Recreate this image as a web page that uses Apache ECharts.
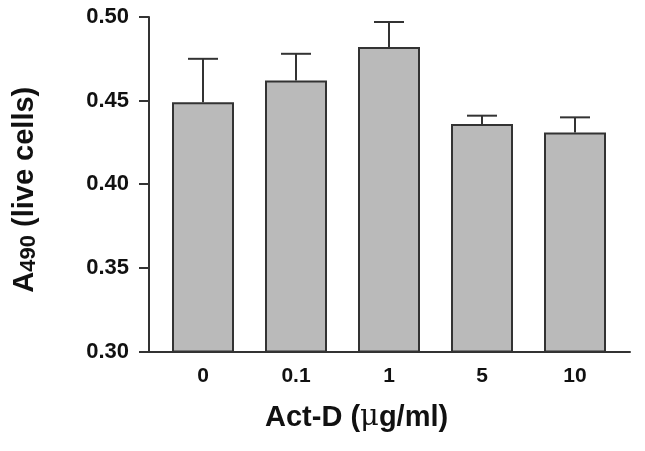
<!DOCTYPE html>
<html>
<head>
<meta charset="utf-8">
<script src="https://cdn.jsdelivr.net/npm/echarts@6/dist/echarts.min.js"></script>
<style>html,body{margin:0;padding:0;background:#fff}#c{width:645px;height:451px}</style>
</head>
<body>
<div id="c"></div>
<script>
var categories = ['0', '0.1', '1', '5', '10'];
var means = [0.449, 0.462, 0.482, 0.436, 0.431];
var upper = [0.475, 0.478, 0.497, 0.441, 0.440];
var yTicks = [0.30, 0.35, 0.40, 0.45, 0.50];

var chart = echarts.init(document.getElementById('c'));
var font = 'Liberation Sans, Arial, sans-serif';
var lineColor = '#333';
var errData = categories.map(function (c, i) { return [i, means[i], upper[i]]; });

chart.setOption({
  animation: false,
  grid: [
    { left: 143, right: 15, top: 17, bottom: 99.5 },
    { left: 156.5, right: 23.5, top: 17, bottom: 99.5 }
  ],
  xAxis: [
    { gridIndex: 0, type: 'value', min: 0, max: 1, axisLine: { show: true, onZero: false, lineStyle: { color: lineColor, width: 2 } },
      axisTick: { show: false }, axisLabel: { show: false }, splitLine: { show: false } },
    { gridIndex: 1, type: 'category', data: categories, axisLine: { show: false }, axisTick: { show: false },
      axisLabel: { color: '#111', fontFamily: font, fontWeight: 'bold', fontSize: 21, margin: 14 } }
  ],
  yAxis: [
    { gridIndex: 0, type: 'value', min: yTicks[0], max: yTicks[yTicks.length - 1], interval: 0.05,
      axisLine: { show: true, lineStyle: { color: lineColor, width: 2 } },
      axisTick: { show: true, length: 10, lineStyle: { color: lineColor, width: 2 } },
      axisLabel: { color: '#111', fontFamily: font, fontWeight: 'bold', fontSize: 22, margin: 20,
        formatter: function (v) { return v.toFixed(2); } },
      splitLine: { show: false },
      name: '{a|A}{s|490}{a| (live cells)}', nameLocation: 'middle', nameGap: 109, nameRotate: 90,
      nameTextStyle: { padding: [0, 11, 0, 0], rich: {
        a: { fontFamily: font, fontWeight: 'bold', fontSize: 29, color: '#111', lineHeight: 31 },
        s: { fontFamily: font, fontWeight: 'bold', fontSize: 22, color: '#111', lineHeight: 31, verticalAlign: 'bottom', padding: [10, 0, 0, 0] }
      } } },
    { gridIndex: 1, type: 'value', min: yTicks[0], max: yTicks[yTicks.length - 1], show: false }
  ],
  title: {
    text: '{a|Act-D (}{m|μ}{a|g/ml)}', left: 265, top: 403, padding: 0,
    textStyle: { rich: {
      a: { fontFamily: font, fontWeight: 'bold', fontSize: 29, color: '#111' },
      m: { fontFamily: 'DejaVu Serif, serif', fontWeight: 'normal', fontSize: 29, color: '#111' }
    } }
  },
  series: [
    { type: 'bar', xAxisIndex: 1, yAxisIndex: 1, data: means, barWidth: 62,
      itemStyle: { color: '#bababa', borderColor: lineColor, borderWidth: 2 }, z: 2 },
    { type: 'custom', xAxisIndex: 1, yAxisIndex: 1, data: errData, z: 3,
      renderItem: function (params, api) {
        var x = api.value(0);
        var top = api.coord([x, api.value(2)]);
        var base = api.coord([x, api.value(1)]);
        var half = 15;
        var st = { stroke: lineColor, lineWidth: 2 };
        return { type: 'group', children: [
          { type: 'line', shape: { x1: top[0], y1: base[1], x2: top[0], y2: top[1] }, style: st },
          { type: 'line', shape: { x1: top[0] - half, y1: top[1], x2: top[0] + half, y2: top[1] }, style: st }
        ] };
      } }
  ]
});
</script>
</body>
</html>
